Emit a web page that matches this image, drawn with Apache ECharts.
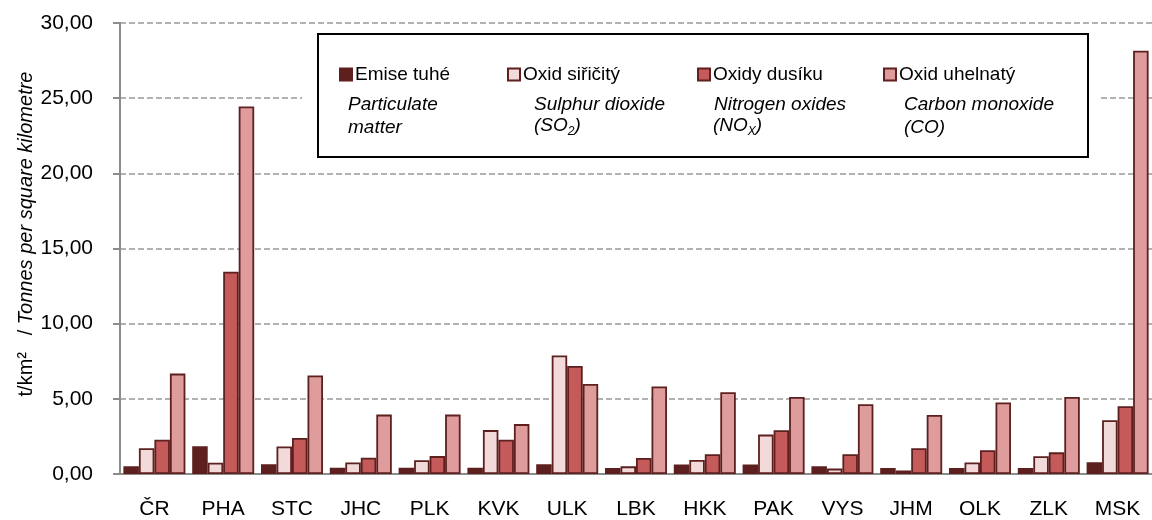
<!DOCTYPE html>
<html>
<head>
<meta charset="utf-8">
<script src="https://cdn.jsdelivr.net/npm/echarts@6/dist/echarts.min.js"></script>
<style>
  html, body { margin: 0; padding: 0; background: #fff; }
  #chart { width: 1152px; height: 520px; }
</style>
</head>
<body>
<div id="chart"></div>
<script>
var regions = ['ČR', 'PHA', 'STC', 'JHC', 'PLK', 'KVK', 'ULK', 'LBK', 'HKK', 'PAK', 'VYS', 'JHM', 'OLK', 'ZLK', 'MSK'];
// t/km2 per kraj
var tuhe     = [0.52, 1.85, 0.65, 0.41, 0.41, 0.41, 0.65, 0.40, 0.64, 0.64, 0.51, 0.40, 0.40, 0.40, 0.78];
var siricity = [1.72, 0.75, 1.83, 0.77, 0.92, 2.92, 7.88, 0.51, 0.93, 2.62, 0.36, 0.24, 0.76, 1.18, 3.58];
var dusik    = [2.28, 13.45, 2.39, 1.08, 1.19, 2.28, 7.19, 1.07, 1.31, 2.91, 1.31, 1.71, 1.58, 1.44, 4.51];
var uhelnaty = [6.68, 24.45, 6.55, 3.95, 3.95, 3.32, 5.99, 5.82, 5.44, 5.13, 4.64, 3.93, 4.76, 5.13, 28.15];
var names = ['Emise tuhé', 'Oxid siřičitý', 'Oxidy dusíku', 'Oxid uhelnatý'];
var yTicks = [0, 5, 10, 15, 20, 25, 30];

var font = 'Liberation Sans, Arial, sans-serif';
var barBorder = '#5e1f1f';
var colors = ['#5e1f1f', '#f2dada', '#c45b5a', '#de9c9d'];

function bar(name, data, color) {
    return {
        name: name,
        type: 'bar',
        data: data,
        barWidth: 15.5,
        barGap: '0%',
        itemStyle: { color: color, borderColor: barBorder, borderWidth: 1.8 }
    };
}

// one legend per item so each sits where it does in the original
var legendX = [334, 502, 692, 878];
var legends = names.map(function (n, i) {
    return {
        data: [n],
        left: legendX[i],
        top: 60,
        icon: 'rect',
        itemWidth: 12,
        itemHeight: 12,
        selectedMode: false,
        z: 20,
        textStyle: { fontFamily: font, fontSize: 19, color: '#000', padding: [0, 0, 0, -2] }
    };
});

var italic = { fontFamily: font, fontSize: 19, fontStyle: 'italic', fill: '#000' };
var subRich = {
    n: { fontFamily: font, fontSize: 19, fontStyle: 'italic', lineHeight: 24 },
    s: { fontFamily: font, fontSize: 12, fontStyle: 'italic', lineHeight: 12, verticalAlign: 'bottom' }
};
function italicText(x, y, txt) {
    return { type: 'text', left: x, top: y, z: 20, style: Object.assign({ text: txt }, italic) };
}

var chart = echarts.init(document.getElementById('chart'));
chart.setOption({
    animation: false,
    grid: { left: 120, right: -12, top: 23, bottom: 45 },
    legend: legends,
    xAxis: {
        type: 'category',
        data: regions,
        axisLine: { lineStyle: { color: '#8c8c8c', width: 2 } },
        axisTick: { length: 7, lineStyle: { color: '#8c8c8c', width: 2 } },
        axisLabel: { fontFamily: font, fontSize: 21, color: '#000', margin: 25 }
    },
    yAxis: {
        type: 'value',
        min: yTicks[0],
        max: yTicks[yTicks.length - 1],
        interval: 5,
        axisLine: { show: true, lineStyle: { color: '#8c8c8c', width: 2 } },
        axisTick: { show: true, length: 7, lineStyle: { color: '#8c8c8c', width: 2 } },
        axisLabel: {
            fontFamily: font, fontSize: 21, color: '#000', margin: 27,
            formatter: function (v) { return v.toFixed(2).replace('.', ','); }
        },
        splitLine: { lineStyle: { color: '#999', width: 1.5, type: [6, 3] } }
    },
    graphic: [
        // white gap round the legend box
        { type: 'rect', shape: { x: 302, y: 30, width: 796, height: 131 }, z: 10, style: { fill: '#fff' } },
        { type: 'rect', shape: { x: 318, y: 34, width: 770, height: 123 }, z: 11,
          style: { fill: '#fff', stroke: '#000', lineWidth: 2 } },
        italicText(348, 95, 'Particulate'),
        italicText(348, 118, 'matter'),
        italicText(534, 95, 'Sulphur dioxide'),
        { type: 'text', left: 534, top: 116, z: 20,
          style: { text: '{n|(SO}{s|2}{n|)}', rich: subRich, fill: '#000' } },
        italicText(714, 95, 'Nitrogen oxides'),
        { type: 'text', left: 713, top: 116, z: 20,
          style: { text: '{n|(NO}{s|X}{n|)}', rich: subRich, fill: '#000' } },
        italicText(904, 95, 'Carbon monoxide'),
        italicText(904, 118, '(CO)'),
        // y axis title
        { type: 'text', x: 26, y: 234, rotation: Math.PI / 2, z: 20,
          style: {
              text: '{a|t/km²   / }{i|Tonnes per square kilometre}',
              align: 'center', verticalAlign: 'middle', fill: '#000',
              rich: {
                  a: { fontFamily: font, fontSize: 20, lineHeight: 24 },
                  i: { fontFamily: font, fontSize: 20, fontStyle: 'italic', lineHeight: 24 }
              }
          } }
    ],
    series: [
        bar(names[0], tuhe, colors[0]),
        bar(names[1], siricity, colors[1]),
        bar(names[2], dusik, colors[2]),
        bar(names[3], uhelnaty, colors[3])
    ]
});
</script>
</body>
</html>
